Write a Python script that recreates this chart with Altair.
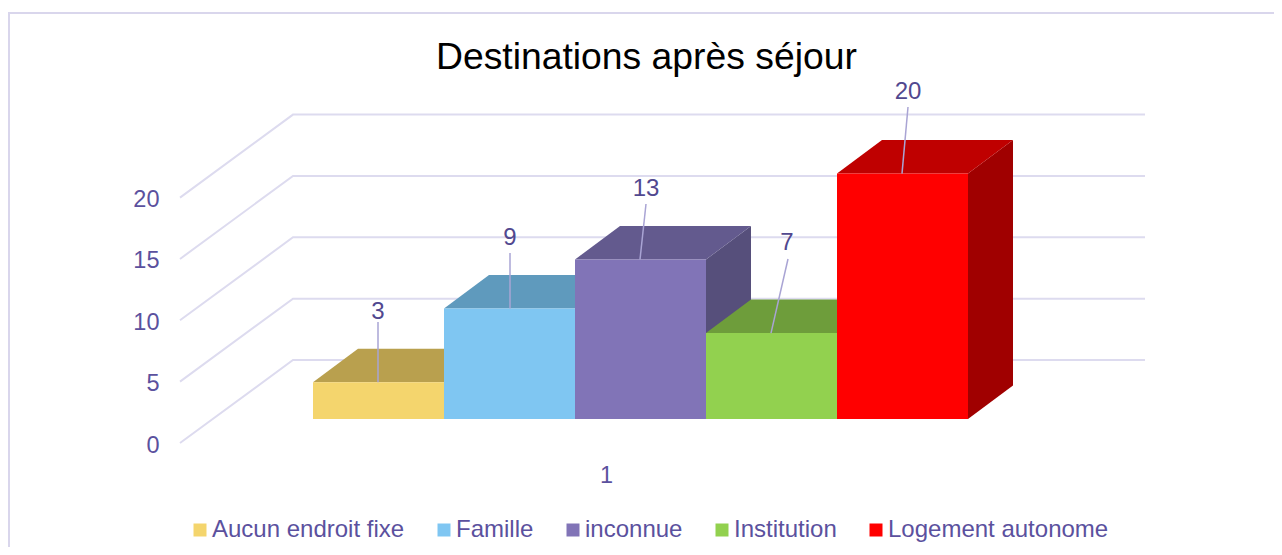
import altair as alt
import pandas as pd

# ---- chart content -------------------------------------------------------
series = ["Aucun endroit fixe", "Famille", "inconnue", "Institution", "Logement autonome"]
values = [3, 9, 13, 7, 20]
front_colors = ["#F4D56D", "#7FC6F2", "#8174B7", "#92D14F", "#FF0000"]
top_colors = ["#B9A04E", "#5F9ABD", "#635A8E", "#6E9D3B", "#BF0000"]
side_colors = ["#8F7C3D", "#4F809E", "#564F7B", "#5B8231", "#A00000"]
y_ticks = [0, 5, 10, 15, 20]
title_text = "Destinations après séjour"

# ---- layout of the fake 3-D projection ----------------------------------
W, H = 1266, 539
PAGE = 8
SLOT = 131.0      # pixels per bar
UNIT = 12.27      # pixels per value unit
X0, Y0 = 313.0, 443.0  # pixel of slot 0, and of value 0 on the front-left edge


def sx(px):
    return (px - X0) / SLOT


def sy(py):
    return (Y0 - py) / UNIT


x_scale = alt.Scale(domain=[sx(PAGE), sx(PAGE + W)], range=[0, W], nice=False, zero=False)
y_scale = alt.Scale(domain=[sy(PAGE + H), sy(PAGE)], range=[H, 0], nice=False, zero=False)

floor = sy(419)             # bars' base level
bar_dx = 45 / SLOT          # depth of a bar
bar_dy = 33.5 / UNIT
wall_dx = 113 / SLOT        # depth of the walls
wall_dy = 83 / UNIT
wall_left = sx(180)
wall_right = sx(1145)

# leader lines and labels (pixel offsets)
start_px = [378, 510, 640, 771, 902]
foot_px = [378, 510, 646, 788, 908]
foot_py = [322, 253, 204, 259, 107]
label_px = [378, 510, 646, 787, 908]
label_py = [311.5, 237.5, 188.5, 242.5, 91.5]

fronts, tops, sides, leaders, labels, grid = [], [], [], [], [], []
for i, (s, v) in enumerate(zip(series, values)):
    top = v + floor
    fronts.append(dict(series=s, x=i, x2=i + 1, y=floor, y2=top))
    tops += [
        dict(series=s, fill=top_colors[i], y=top, x=i, x2=i + 1),
        dict(series=s, fill=top_colors[i], y=top + bar_dy, x=i + bar_dx, x2=i + 1 + bar_dx),
    ]
    sides += [
        dict(series=s, fill=side_colors[i], x=i + 1, y=top, y2=floor),
        dict(series=s, fill=side_colors[i], x=i + 1 + bar_dx, y=top + bar_dy, y2=floor + bar_dy),
    ]
    leaders.append(dict(x=sx(start_px[i]), y=top, x2=sx(foot_px[i]), y2=sy(foot_py[i])))
    labels.append(dict(x=sx(label_px[i]), y=sy(label_py[i]), text=str(v)))

for t in y_ticks:
    grid += [
        dict(tick=t, order=0, x=wall_left, y=t),
        dict(tick=t, order=1, x=wall_left + wall_dx, y=t + wall_dy),
        dict(tick=t, order=2, x=wall_right, y=t + wall_dy),
    ]

FONT = "Liberation Sans"
TEXT = "#5B519E"

x_axis = alt.Axis(
    values=[sx(606)], labelExpr="'1'", orient="bottom", offset=-(PAGE + H - 463), title=None,
    domain=False, ticks=False, grid=False, labelFont=FONT, labelFontSize=23.5, labelColor=TEXT,
    labelPadding=0,
)
y_axis = alt.Axis(
    values=y_ticks, orient="left", offset=-(164 - PAGE), title=None, domain=False, ticks=False,
    grid=False, labelFont=FONT, labelFontSize=23.5, labelColor=TEXT, labelPadding=5,
    labelOffset=2,
)
X = lambda: alt.X("x:Q", scale=x_scale, axis=x_axis)
Y = lambda: alt.Y("y:Q", scale=y_scale, axis=y_axis)

frame_top = alt.Chart(pd.DataFrame({"k": [0]})).mark_rule(color="#D9D6EC", strokeWidth=2).encode(
    x=alt.value(0), x2=alt.value(W), y=alt.value(5)
)
frame_left = alt.Chart(pd.DataFrame({"k": [0]})).mark_rule(color="#D9D6EC", strokeWidth=2).encode(
    x=alt.value(1), y=alt.value(5), y2=alt.value(H)
)

grid_layer = alt.Chart(pd.DataFrame(grid)).mark_line(color="#DDDBEF", strokeWidth=2).encode(
    x=X(), y=Y(), detail="tick:N", order="order:Q",
)

side_layer = alt.Chart(pd.DataFrame(sides)).mark_area(orient="vertical").encode(
    x=X(), y=Y(), y2="y2:Q", fill=alt.Fill("fill:N", scale=None), detail="series:N",
)

top_layer = alt.Chart(pd.DataFrame(tops)).mark_area(orient="horizontal").encode(
    y=Y(), x=X(), x2="x2:Q", fill=alt.Fill("fill:N", scale=None), detail="series:N",
)

front_layer = alt.Chart(pd.DataFrame(fronts)).mark_rect().encode(
    x=X(), x2="x2:Q", y=Y(), y2="y2:Q",
    color=alt.Color(
        "series:N",
        scale=alt.Scale(domain=series, range=front_colors),
        legend=alt.Legend(
            orient="none", legendX=180, legendY=510, direction="horizontal", columns=5,
            title=None, symbolType="square", symbolSize=169, symbolStrokeWidth=0,
            labelFont=FONT, labelFontSize=24, labelColor=TEXT, labelOffset=0,
            columnPadding=27, labelLimit=400,
        ),
    ),
)

leader_layer = alt.Chart(pd.DataFrame(leaders)).mark_rule(color="#A9A4D4", strokeWidth=1.5).encode(
    x=X(), y=Y(), x2="x2:Q", y2="y2:Q",
)

label_layer = alt.Chart(pd.DataFrame(labels)).mark_text(
    font=FONT, fontSize=24, color="#51488F", align="center", baseline="middle"
).encode(
    x=X(), y=Y(), text="text:N",
)

chart = alt.layer(
    frame_top, frame_left, grid_layer, side_layer, top_layer, front_layer, leader_layer, label_layer
).resolve_scale(fill="independent").properties(
    width=W,
    height=H,
    padding=0,
    autosize=alt.AutoSizeParams(type="none"),
    title=alt.TitleParams(
        title_text, font=FONT, fontSize=37.3, fontWeight="normal", color="#000000",
        anchor="start", orient="top", offset=-98, dx=428, baseline="alphabetic", frame="group",
    ),
).configure_view(stroke=None)

chart.save("out.html", embed_options={"renderer": "svg", "actions": False})
